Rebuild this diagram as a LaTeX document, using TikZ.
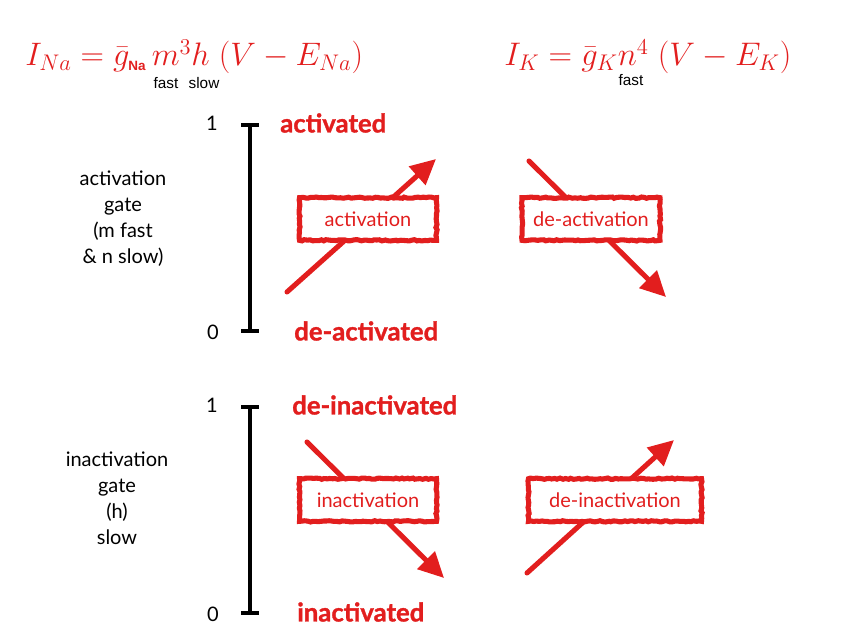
\documentclass[tikz,border=0pt]{standalone}
\usepackage{fontspec}
\setmainfont{Lato}
\newfontfamily\heavy{Lato}[BoldFeatures={FakeBold=1.2}]
\newfontfamily\helv{Liberation Sans}
\usetikzlibrary{arrows.meta,decorations.pathmorphing}
\definecolor{sred}{RGB}{226,30,30}
\begin{document}
\begin{tikzpicture}[x=0.75pt,y=-0.75pt,
  eq/.style={anchor=base west,text=sred,inner sep=0pt,font=\fontsize{20}{24}\selectfont},
  annot/.style={inner sep=0pt,font=\helv\fontsize{11.5}{12}\selectfont},
  bar/.style={line width=3pt,black,{Bar[width=13pt]}-{Bar[width=13pt]}},
  num/.style={inner sep=0pt,font=\fontsize{15}{18}\selectfont},
  gatetxt/.style={align=center,inner sep=0pt,font=\fontsize{15}{19.5}\selectfont},
  statetxt/.style={anchor=west,inner sep=0pt,text=sred,font=\heavy\fontsize{19.3}{21}\selectfont\bfseries},
  flow/.style={draw=sred,line width=3.8pt,line cap=round,-{Triangle[length=19pt,width=18pt]}},
  procbox/.style={draw=sred,fill=white,line width=3.8pt,text=sred,inner sep=0pt,
    minimum height=32pt,font=\fontsize{15}{18}\selectfont,
    decorate,decoration={random steps,segment length=2pt,amplitude=0.5pt}}
]
\useasboundingbox (0,0) rectangle (854,642);

% equations
\node[eq] (eqna) at (25,66) {\scalebox{1.175}{$I_{Na} = \bar{g}_{\hbox{\helv\bfseries\fontsize{8.6}{9}\selectfont Na}}\, m^3 h\;(V - E_{Na})$}};
\node[eq] (eqk) at (504,66) {\scalebox{1.18}{$I_K = \bar{g}_K n^4\;(V - E_K)$}};
\node[annot] (fastm) at (166,83) {fast};
\node[annot] (slowh) at (204,83) {slow};
\node[annot] (fastn) at (631,80) {fast};

% top scale
\coordinate (top1) at (250,123);
\coordinate (bot1) at (250,333);
\draw[bar] (top1) -- (bot1);
\node[num] (one1) at (212,123) {1};
\node[num] (zero1) at (213,332) {0};
\node[gatetxt] (gate1) at (123,219) {activation\\gate\\(m fast\\\& n slow)};
\node[statetxt] (act) at (280,123) {activated};
\node[statetxt] (deact) at (294,331) {de-activated};

% bottom scale
\coordinate (top2) at (250,405);
\coordinate (bot2) at (250,615);
\draw[bar] (top2) -- (bot2);
\node[num] (one2) at (212,405) {1};
\node[num] (zero2) at (213,614) {0};
\node[gatetxt] (gate2) at (117,498) {inactivation\\gate\\(h)\\slow};
\node[statetxt] (deinact) at (292,405) {de-inactivated};
\node[statetxt] (inact) at (297,612) {inactivated};

% arrows
\coordinate (a1s) at (287,292); \coordinate (a1e) at (436,159);
\coordinate (a2s) at (529,161); \coordinate (a2e) at (666,297);
\coordinate (a3s) at (307,442); \coordinate (a3e) at (444,578);
\coordinate (a4s) at (527,573); \coordinate (a4e) at (674,440);
\draw[flow] (a1s) -- (a1e);
\draw[flow] (a2s) -- (a2e);
\draw[flow] (a3s) -- (a3e);
\draw[flow] (a4s) -- (a4e);

% boxes
\node[procbox,minimum width=102.75pt] (bact) at (368,219) {activation};
\node[procbox,minimum width=103.5pt] (bdeact) at (591,219) {de-activation};
\node[procbox,minimum width=102.75pt] (binact) at (368,500) {inactivation};
\node[procbox,minimum width=129.75pt] (bdeinact) at (615,500) {de-inactivation};
\end{tikzpicture}
\end{document}
